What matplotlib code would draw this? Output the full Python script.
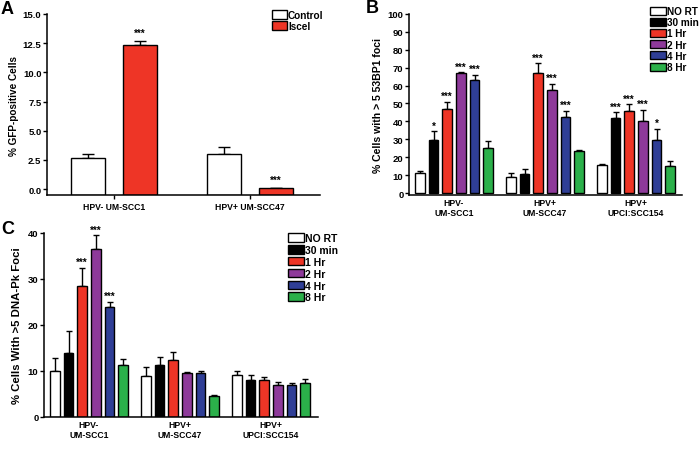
import numpy as np
import matplotlib
matplotlib.use("Agg")
import matplotlib.pyplot as plt
from matplotlib.patches import Patch

plt.rcParams['font.family'] = ['Liberation Sans', 'DejaVu Sans']

# ---------------- Data ----------------
# Panel A
a_groups = ["HPV- UM-SCC1", "HPV+ UM-SCC47"]
a_series = ["Control", "Iscel"]
a_control = [2.7, 3.05]
a_control_err = [0.3, 0.55]
a_iscel = [12.35, 0.1]
a_iscel_err = [0.3, 0.0]
a_iscel_stars = ["***", "***"]

# Panel B / C shared
groups = ["HPV-\nUM-SCC1", "HPV+\nUM-SCC47", "HPV+\nUPCI:SCC154"]
timepoints = ["NO RT", "30 min", "1 Hr", "2 Hr", "4 Hr", "8 Hr"]

# Panel B: % cells with > 5 53BP1 foci (rows = timepoints, cols = groups)
b_vals = [
    [11.5, 9.0, 15.5],
    [29.5, 10.5, 42.0],
    [47.0, 67.0, 46.0],
    [66.8, 57.5, 40.5],
    [63.0, 42.5, 29.5],
    [25.0, 23.5, 15.0],
]
b_errs = [
    [0.8, 2.5, 1.0],
    [5.0, 3.0, 3.0],
    [4.0, 5.5, 3.5],
    [0.7, 3.5, 6.0],
    [3.0, 3.5, 6.5],
    [4.0, 0.3, 2.8],
]
b_stars = [
    ["", "", ""],
    ["*", "", "***"],
    ["***", "***", "***"],
    ["***", "***", "***"],
    ["***", "***", "*"],
    ["", "", ""],
]

# Panel C: % cells with > 5 DNA-Pk foci
c_vals = [
    [10.0, 9.0, 9.2],
    [14.0, 11.4, 8.1],
    [28.5, 12.3, 8.0],
    [36.5, 9.6, 7.0],
    [24.0, 9.6, 7.0],
    [11.2, 4.5, 7.4],
]
c_errs = [
    [2.8, 1.8, 0.8],
    [4.7, 1.7, 1.1],
    [4.0, 1.9, 0.8],
    [3.0, 0.2, 0.7],
    [1.0, 0.5, 0.4],
    [1.5, 0.2, 0.9],
]
c_stars = [
    ["", "", ""],
    ["", "", ""],
    ["***", "", ""],
    ["***", "", ""],
    ["***", "", ""],
    ["", "", ""],
]

colors = ["#FFFFFF", "#000000", "#EE3526", "#8E3A9A", "#2F3E96", "#2BB04A"]
a_colors = ["#FFFFFF", "#EE3526"]

fig = plt.figure(figsize=(7.0, 4.52), dpi=100)

def style_axes(ax, xticks_len=0):
    for s in ["top", "right"]:
        ax.spines[s].set_visible(False)
    for s in ["left", "bottom"]:
        ax.spines[s].set_linewidth(1.1)
    ax.tick_params(axis="y", direction="out", length=3, width=1, labelsize=6.8, pad=1)
    ax.tick_params(axis="x", direction="out", length=xticks_len, width=1, labelsize=6.2, pad=2)
    for lab in ax.get_yticklabels() + ax.get_xticklabels():
        lab.set_fontweight("bold")

# ---------------- Panel A ----------------
axA = fig.add_axes([47/700, 1-196/452, 273/700, 181/452])
xA = np.arange(len(a_groups))
w = 0.25
off = 0.19
bottomA = -0.5
axA.bar(xA - off, np.array(a_control) - bottomA, w, bottom=bottomA, color=a_colors[0],
        edgecolor="black", linewidth=1, zorder=2)
axA.bar(xA + off, np.array(a_iscel) - bottomA, w, bottom=bottomA, color=a_colors[1],
        edgecolor="black", linewidth=1, zorder=2)
axA.errorbar(xA - off, a_control, yerr=[np.zeros(2), a_control_err], fmt="none",
             ecolor="black", elinewidth=1, capsize=4, capthick=1, zorder=1)
axA.errorbar(xA + off, a_iscel, yerr=[np.zeros(2), a_iscel_err], fmt="none",
             ecolor="black", elinewidth=1, capsize=4, capthick=1, zorder=1)
for i, s in enumerate(a_iscel_stars):
    axA.text(xA[i] + off, a_iscel[i] + a_iscel_err[i] + 0.3, s, ha="center", va="bottom",
             fontsize=7, fontweight="bold")
axA.set_xlim(-0.49, 1.515)
axA.set_ylim(bottomA, 15)
axA.set_yticks([0, 2.5, 5, 7.5, 10, 12.5, 15])
axA.set_yticklabels(["0.0", "2.5", "5.0", "7.5", "10.0", "12.5", "15.0"])
axA.set_xticks(xA)
axA.set_xticklabels(a_groups)
style_axes(axA, xticks_len=3)
axA.set_ylabel("% GFP-positive Cells", fontsize=7.2, fontweight="bold", labelpad=3)
hA = [Patch(facecolor=c, edgecolor="black", linewidth=1) for c in a_colors]
legA = axA.legend(hA, a_series, loc="upper left", bbox_to_anchor=(272/700, 1-11/452),
                  bbox_transform=fig.transFigure, frameon=False, fontsize=7.2,
                  handlelength=1.45, handleheight=0.95, handletextpad=0.15,
                  labelspacing=0.12, borderpad=0, borderaxespad=0)
for t in legA.get_texts():
    t.set_fontweight("bold")

# ---------------- Panel B / C helper ----------------
def grouped(ax, vals, errs, stars, star_off, star_fs=7):
    n = len(timepoints)
    x = np.arange(len(groups))
    step = 0.15
    bw = 0.105
    for k in range(n):
        pos = x + (k - (n - 1) / 2) * step
        ax.bar(pos, vals[k], bw, color=colors[k], edgecolor="black", linewidth=1,
               zorder=2, label=timepoints[k])
        ax.errorbar(pos, vals[k], yerr=[np.zeros(len(groups)), errs[k]], fmt="none",
                    ecolor="black", elinewidth=1, capsize=2.5, capthick=1, zorder=1)
        for g in range(len(groups)):
            if stars[k][g]:
                ax.text(pos[g], vals[k][g] + errs[k][g] + star_off, stars[k][g],
                        ha="center", va="bottom", fontsize=star_fs, fontweight="bold",
                        clip_on=False)
    ax.set_xticks(x)
    ax.set_xticklabels(groups)

# ---------------- Panel B ----------------
axB = fig.add_axes([409/700, 1-196/452, 273/700, 181.3/452])
grouped(axB, b_vals, b_errs, b_stars, star_off=0.3)
axB.set_xlim(-0.495, 2.505)
axB.set_ylim(-1, 100)
axB.set_yticks(np.arange(0, 101, 10))
style_axes(axB)
axB.set_ylabel("% Cells with > 5 53BP1 foci", fontsize=7.6, fontweight="bold", labelpad=3)
hB = [Patch(facecolor=c, edgecolor="black", linewidth=1) for c in colors]
legB = axB.legend(hB, timepoints, loc="upper left", bbox_to_anchor=(650/700, 1-7/452),
                  bbox_transform=fig.transFigure, frameon=False, fontsize=7.2,
                  handlelength=1.55, handleheight=0.85, handletextpad=0.15,
                  labelspacing=0.12, borderpad=0, borderaxespad=0)
for t in legB.get_texts():
    t.set_fontweight("bold")

# ---------------- Panel C ----------------
axC = fig.add_axes([44/700, 1-418/452, 274/700, 184/452])
grouped(axC, c_vals, c_errs, c_stars, star_off=0.15)
axC.set_xlim(-0.495, 2.516)
axC.set_ylim(0, 40)
axC.set_yticks([0, 10, 20, 30, 40])
style_axes(axC)
axC.set_ylabel("% Cells With >5 DNA-Pk Foci", fontsize=8.2, fontweight="bold", labelpad=4)
hC = [Patch(facecolor=c, edgecolor="black", linewidth=1) for c in colors]
legC = axC.legend(hC, timepoints, loc="upper left", bbox_to_anchor=(288/700, 1-234/452),
                  bbox_transform=fig.transFigure, frameon=False, fontsize=7.5,
                  handlelength=1.5, handleheight=0.9, handletextpad=0.15,
                  labelspacing=0.18, borderpad=0, borderaxespad=0)
for t in legC.get_texts():
    t.set_fontweight("bold")

# ---------------- Panel letters ----------------
fig.text(1/700, 1-1/452, "A", fontsize=13, fontweight="bold", va="top", ha="left")
fig.text(366/700, 1-0/452, "B", fontsize=13, fontweight="bold", va="top", ha="left")
fig.text(1/700, 1-221/452, "C", fontsize=13, fontweight="bold", va="top", ha="left")

fig.savefig("out.png", dpi=100)
